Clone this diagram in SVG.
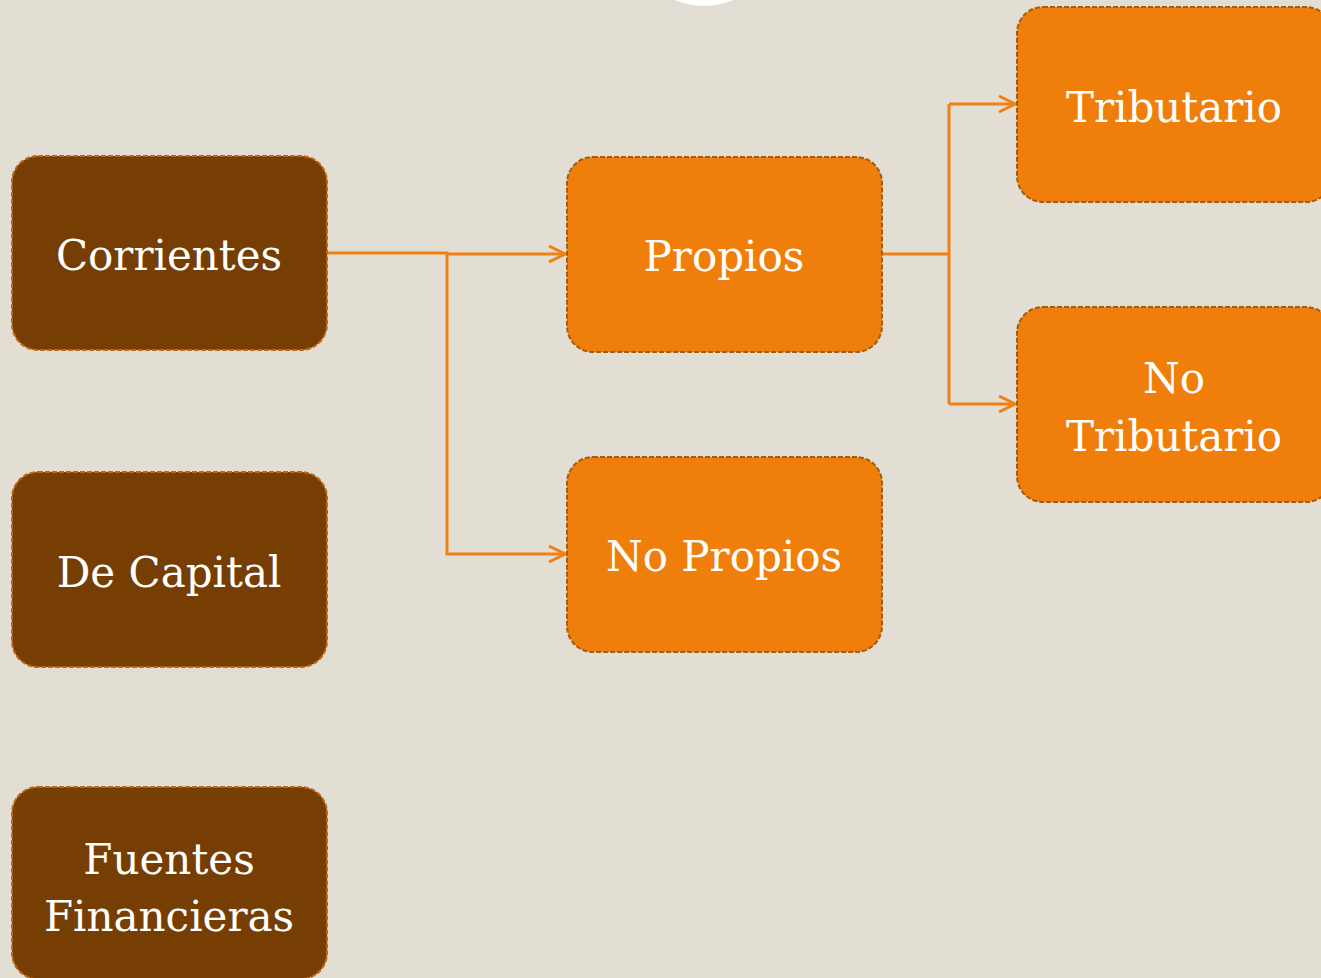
<svg xmlns="http://www.w3.org/2000/svg" width="1321" height="978" viewBox="0 0 1321 978">
<defs>
<style>
.dark{fill:#763E03;stroke:#C0660E;stroke-width:2;stroke-dasharray:5 2}
.org{fill:#EF7F0A;stroke:#A95A0C;stroke-width:2;stroke-dasharray:5 2}
.t{font-family:"DejaVu Serif","Liberation Serif",serif;font-size:42px;fill:#FFFFFF;text-anchor:middle}
.c{fill:none;stroke:#EF8014;stroke-width:3}
</style>
<marker id="ah" viewBox="0 0 20 20" refX="18" refY="10" markerWidth="20" markerHeight="20" markerUnits="userSpaceOnUse" orient="auto">
<path d="M2,2 L18,10 L2,18" fill="none" stroke="#EF8014" stroke-width="3"/>
</marker>
</defs>
<rect width="1321" height="978" fill="#E3DED3"/>
<circle cx="704" cy="-67" r="73" fill="#FFFFFF"/>
<g id="connectors">
<path class="c" d="M327,253 H447 V554 H565" marker-end="url(#ah)"/>
<path class="c" d="M447,254 H565" marker-end="url(#ah)"/>
<path class="c" d="M882,254 H949"/>
<path class="c" d="M949,104 V404"/>
<path class="c" d="M949,104 H1015" marker-end="url(#ah)"/>
<path class="c" d="M949,404 H1015" marker-end="url(#ah)"/>
</g>
<g id="corrientes"><rect class="dark" x="12" y="156" width="315" height="194" rx="26"/><text class="t" x="169" y="270">Corrientes</text></g>
<g id="decapital"><rect class="dark" x="12" y="472" width="315" height="195" rx="26"/><text class="t" x="169" y="587">De Capital</text></g>
<g id="fuentes"><rect class="dark" x="12" y="787" width="315" height="192" rx="26"/><text class="t" x="169" y="874">Fuentes</text><text class="t" x="169" y="931">Financieras</text></g>
<g id="propios"><rect class="org" x="567" y="157" width="315" height="195" rx="26"/><text class="t" x="724" y="271">Propios</text></g>
<g id="nopropios"><rect class="org" x="567" y="457" width="315" height="195" rx="26"/><text class="t" x="724" y="571">No Propios</text></g>
<g id="tributario"><rect class="org" x="1017" y="7" width="315" height="195" rx="26"/><text class="t" x="1174" y="122">Tributario</text></g>
<g id="notributario"><rect class="org" x="1017" y="307" width="315" height="195" rx="26"/><text class="t" x="1174" y="393">No</text><text class="t" x="1174" y="451">Tributario</text></g>
</svg>
